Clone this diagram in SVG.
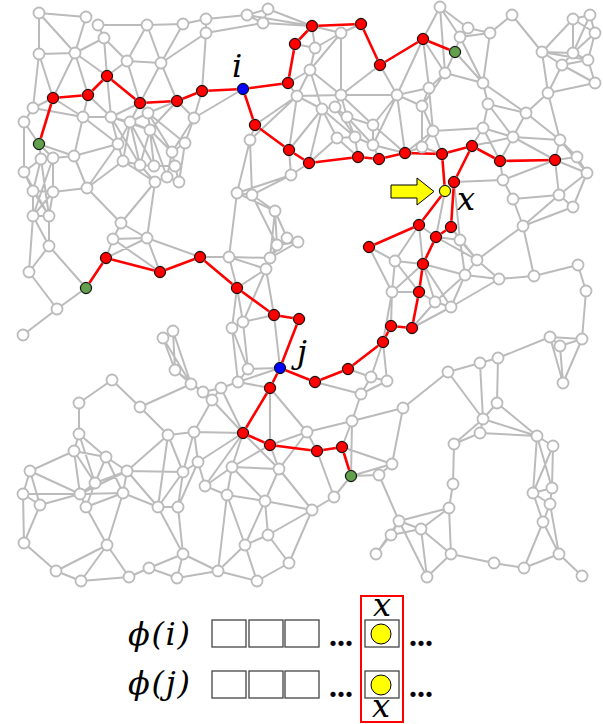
<svg xmlns="http://www.w3.org/2000/svg" width="603" height="724" viewBox="0 0 603 724">
<style>
.e{fill:none;stroke:#bbb;stroke-width:2;stroke-linecap:round}
.re{fill:none;stroke:#f00;stroke-width:2.6;stroke-linecap:round;stroke-linejoin:round}
.gn circle,circle.h{fill:#fff;stroke:#bbb;stroke-width:1.8}
circle.r{fill:#f00;stroke:#000;stroke-width:1}
circle.g{fill:#62a04e;stroke:#000;stroke-width:1}
circle.b{fill:#00f;stroke:#000;stroke-width:1}
circle.y{fill:#ff0;stroke:#000;stroke-width:1}
.m{font-family:"DejaVu Serif","Liberation Serif",serif;font-style:italic;fill:#000}
.dots{font-family:"Liberation Serif",serif;font-weight:bold;font-size:32px;fill:#000}
.box{fill:#fff;stroke:#444;stroke-width:1.3}
</style>
<g id="connectors">
<path class="e" d="M39 13L86 17M39 13L39 54M39 13L75 53M86 17L75 53M98 25L147 25M147 25L183 24M183 24L206 19M98 25L104 38M104 38L75 53M104 38L127 61M104 38L107 76M147 25L127 61M147 25L161 63M183 24L161 63M127 61L161 63M161 63L206 33M161 63L177 101M127 61L107 76M75 53L39 54M75 53L53 98M75 53L88 95M75 53L107 76M39 54L53 98M39 54L33 108M127 61L140 103M161 63L140 103M177 101L194 118M53 98L33 108M53 98L83 117M88 95L83 117M88 95L111 117M107 76L111 117M140 103L111 117M140 103L130 122M140 103L148 113M177 101L148 113M177 101L150 130M33 108L24 122M24 122L39 144M33 108L83 117M83 117L111 117M111 117L130 122M130 122L148 113M148 113L150 130M83 117L74 156M83 117L118 144M111 117L118 144M130 122L118 144M39 144L41 159M39 144L53 158M39 144L74 156M74 156L118 144M74 156L87 188M74 156L53 158M118 144L123 161M118 144L87 188M130 122L123 161M130 122L140 165M130 122L154 166M150 130L140 165M150 130L154 166M150 130L172 152M150 130L167 177M148 113L172 152M194 118L185 143M194 118L172 152M185 143L172 152M185 143L179 182M172 152L167 177M172 152L175 166M123 161L140 165M140 165L154 166M154 166L175 166M123 161L155 182M140 165L155 182M155 182L167 177M167 177L179 182M175 166L179 182M123 161L87 188M87 188L53 192M87 188L121 223M155 182L147 238M155 182L121 223M24 122L24 172M41 159L24 172M41 159L33 191M53 158L53 192M24 172L33 191M33 191L53 192M41 159L53 158M33 191L33 216M53 192L49 216M33 191L49 216M53 192L33 216M33 216L49 216M24 172L49 216M41 159L49 216M53 158L33 216M194 118L202 91M194 118L243 89M148 113L185 143M111 117L150 130M148 113L154 166M111 117L140 165M130 122L150 130"/>
<path class="e" d="M33 216L29 272M49 216L49 246M33 216L49 246M49 246L29 272M49 246L86 288M29 272L57 309M86 288L57 309M57 309L23 335M121 223L113 239M121 223L147 238M113 239L147 238M113 239L106 258M147 238L160 272M147 238L200 257M113 239L160 272M147 238L106 258"/>
<path class="e" d="M206 19L247 15M206 19L206 33M206 33L263 23M247 15L268 9M247 15L263 23M263 23L268 9M268 9L312 26M263 23L312 26M247 15L312 26M206 33L202 91M341 33L312 26M341 33L361 24M341 33L315 48M341 33L310 70M315 48L295 44M315 48L310 70M315 48L312 26M310 70L288 83M310 70L297 96M310 70L341 95M310 70L322 109M288 83L297 96M297 96L250 140M297 96L255 125M297 96L341 95M297 96L322 109M297 96L289 150M341 95L397 95M380 65L341 95M341 95L335 107M341 95L347 117M341 95L373 125M380 65L397 95M397 95L373 125M397 95L373 145M397 95L405 153M423 39L397 95M397 95L429 88M397 95L422 106M322 109L335 107M322 109L337 138M322 109L309 163M322 109L289 150M335 107L347 117M347 117L355 137M347 117L373 125M347 117L373 145M355 137L337 138M355 137L373 145M355 137L358 157M337 138L309 163M337 138L358 157M373 125L373 145M373 145L379 159M373 145L405 153M373 125L405 153M250 140L255 125M250 140L237 193M250 140L252 195M289 150L291 175M309 163L291 175M291 175L252 195M291 175L237 193M237 193L252 195M341 33L341 95M335 107L355 137M322 109L355 137"/>
<path class="e" d="M440 7L423 39M440 7L468 28M440 7L460 37M440 7L445 73M423 39L445 73M423 39L429 88M455 52L460 37M455 52L445 73M455 52L483 83M468 28L460 37M468 28L490 33M460 37L490 33M490 33L512 15M490 33L483 83M460 37L483 83M512 15L542 52M542 52L573 53M542 52L562 65M542 52L573 19M542 52L548 93M542 52L588 60M573 19L590 15M573 19L573 53M590 15L595 33M573 19L595 33M595 33L573 53M573 53L588 60M588 60L562 65M562 65L595 83M573 53L562 65M588 60L595 83M590 15L573 53M595 33L588 60M548 93L562 65M548 93L595 83M548 93L526 113M548 93L560 140M445 73L429 88M445 73L483 83M429 88L422 106M483 83L488 104M483 83L526 113M488 104L526 113M488 104L483 128M488 104L513 137M526 113L513 137M526 113L560 140M422 106L433 131M422 106L422 147M433 131L422 147M433 131L483 128M433 131L442 154M433 131L405 153M483 128L513 137M483 128L472 146M483 128L500 161M513 137L500 161M513 137L560 140M513 137L472 146M513 137L555 160M560 140L555 160M560 140L577 157M560 140L587 173M422 147L405 153M422 147L442 154M555 160L577 157M555 160L559 195M555 160L587 173M577 157L587 173M587 173L559 195M587 173L573 207M500 161L503 180M503 180L513 199M503 180L454 182M503 180L555 160M513 199L559 195M513 199L523 226M445 73L422 106M429 88L433 131"/>
<path class="e" d="M559 195L523 226M573 207L523 226M559 195L573 207M523 226L534 276M523 226L477 260M534 276L499 279M534 276L578 265M578 265L586 291M586 291L582 339M582 339L550 337M582 339L560 346M582 339L563 383M550 337L560 346M550 337L563 383M560 346L563 383M550 337L498 358M498 358L480 363M480 363L448 372M480 363L483 419M498 358L497 403M448 372L403 408M448 372L483 419M499 279L477 260M499 279L465 275M499 279L451 307M477 260L460 240M477 260L465 275M477 260L436 237M477 260L451 227M460 240L451 227M460 240L465 275M460 240L436 237M465 275L423 264M465 275L451 307M465 275L435 302M419 225L423 264M419 225L436 237M419 225L395 261M423 264L451 307M423 264L435 302M423 264L395 261M423 264L392 292M419 292L435 302M419 292L392 292M435 302L451 307M435 302L412 328M451 307L412 328M445 191L436 237M454 182L460 240"/>
<path class="e" d="M237 193L275 211M252 195L275 211M275 211L277 245M275 211L287 238M252 195L277 245M275 211L270 258M277 245L287 238M287 238L298 242M277 245L298 242M277 245L270 258M287 238L270 258M270 258L266 269M298 242L270 258M229 257L270 258M229 257L266 269M200 257L229 257M229 257L237 288M237 193L229 257M266 269L237 288M266 269L274 315M266 269L243 322M237 288L243 322M237 288L232 328M274 315L243 322M274 315L280 368M243 322L232 328M243 322L248 369M232 328L238 382M232 328L248 369M248 369L280 368M248 369L238 382M238 382L221 388M238 382L280 368M238 382L270 388M348 369L371 377M383 342L371 377M383 342L387 381M371 377L387 381M315 382L361 394M371 377L361 394M369 247L395 261M395 261L392 292M392 292L391 326M392 292L383 342M369 247L392 292M395 261L419 292M361 394L387 381"/>
<path class="e" d="M163 338L173 331M163 338L175 370M173 331L175 370M163 338L191 384M173 331L191 384M175 370L191 384M191 384L203 392M175 370L203 392M112 380L79 403M112 380L140 407M140 407L191 384M203 392L212 400M221 388L203 392"/>
<path class="e" d="M79 403L79 434M140 407L168 435M79 434L74 451M79 434L106 457M79 434L95 483M74 451L106 457M74 451L30 471M74 451L80 494M74 451L95 483M106 457L127 471M106 457L95 483M106 457L123 493M127 471L168 435M127 471L183 472M127 471L95 483M127 471L123 493M127 471L80 494M127 471L158 507M30 471L23 494M30 471L40 505M30 471L80 494M23 494L80 494M23 494L24 543M23 494L40 505M40 505L80 494M40 505L24 543M80 494L86 507M80 494L95 483M80 494L123 493M86 507L123 493M86 507L107 545M86 507L95 483M123 493L107 545M123 493L158 507M168 435L194 432M168 435L183 472M168 435L158 507M194 432L183 472M194 432L198 462M194 432L212 400M183 472L198 462M183 472L158 507M183 472L178 507M198 462L178 507M158 507L178 507M158 507L183 554M178 507L183 554M24 543L56 571M107 545L56 571M107 545L81 581M107 545L129 577M56 571L81 581M81 581L129 577M129 577L149 568M149 568L183 554M149 568L177 578M183 554L177 578M177 578L218 571M183 554L218 571M194 432L243 433M198 462L243 433M198 462L205 486"/>
<path class="e" d="M212 400L221 388M212 400L243 433M221 388L243 433M270 388L270 445M243 433L232 467M243 433L279 469M243 433L205 486M270 445L279 469M270 445L232 467M307 432L317 451M307 432L352 421M307 432L279 469M307 432L270 388M352 421L342 447M352 421L361 394M352 421L403 408M352 421L351 476M342 447L392 464M351 476L379 475M351 476L392 464M351 476L334 497M379 475L392 464M379 475L399 521M232 467L279 469M232 467L205 486M232 467L227 495M232 467L265 501M279 469L265 501M279 469L312 510M317 451L334 497M205 486L227 495M227 495L265 501M227 495L245 545M227 495L218 571M265 501L312 510M265 501L268 535M265 501L245 545M312 510L334 497M312 510L268 535M312 510L289 563M268 535L245 545M268 535L289 563M245 545L218 571M245 545L257 581M289 563L257 581M218 571L257 581M399 521L391 535M391 535L376 554M399 521L376 554M403 408L392 464M391 535L421 529M270 445L307 432"/>
<path class="e" d="M497 403L483 419M497 403L537 436M483 419L480 433M483 419L537 436M480 433L537 436M480 433L454 444M483 419L454 444M454 444L453 484M453 484L449 508M537 436L553 446M537 436L533 493M537 436L552 488M553 446L552 488M553 446L533 493M533 493L543 522M552 488L550 504M533 493L550 504M550 504L543 522M550 504L559 554M543 522L524 568M559 554L582 576M543 522L559 554M449 508L421 529M449 508L399 521M449 508L451 554M421 529L399 521M421 529L451 554M421 529L427 577M399 521L427 577M451 554L494 563M494 563L524 568M524 568L559 554M451 554L427 577M533 493L552 488"/>
<path class="re" d="M39 144L53 98L88 95L107 76L140 103L177 101L202 91L243 89L288 83L295 44L312 26L361 24L380 65L423 39L455 52M243 89L255 125L289 150L309 163L358 157L379 159L405 153L442 154L445 191M442 154L472 146L500 161L555 160M472 146L454 182L451 227L436 237L423 264L419 292L412 328L391 326L383 342L348 369L315 382L280 368M445 191L419 225L369 247M86 288L106 258L160 272L200 257L237 288L274 315L299 319L280 368L270 388L243 433L270 445L317 451L342 447L351 476"/>
</g>
<g class="gn">
<g id="n1"><circle cx="39" cy="13" r="5.5"/></g>
<g id="n2"><circle cx="86" cy="17" r="5.5"/></g>
<g id="n3"><circle cx="98" cy="25" r="5.5"/></g>
<g id="n4"><circle cx="147" cy="25" r="5.5"/></g>
<g id="n5"><circle cx="183" cy="24" r="5.5"/></g>
<g id="n6"><circle cx="104" cy="38" r="5.5"/></g>
<g id="n7"><circle cx="39" cy="54" r="5.5"/></g>
<g id="n8"><circle cx="75" cy="53" r="5.5"/></g>
<g id="n9"><circle cx="127" cy="61" r="5.5"/></g>
<g id="n10"><circle cx="161" cy="63" r="5.5"/></g>
<g id="n11"><circle cx="33" cy="108" r="5.5"/></g>
<g id="n12"><circle cx="24" cy="122" r="5.5"/></g>
<g id="n13"><circle cx="83" cy="117" r="5.5"/></g>
<g id="n14"><circle cx="111" cy="117" r="5.5"/></g>
<g id="n15"><circle cx="130" cy="122" r="5.5"/></g>
<g id="n16"><circle cx="148" cy="113" r="5.5"/></g>
<g id="n17"><circle cx="150" cy="130" r="5.5"/></g>
<g id="n18"><circle cx="194" cy="118" r="5.5"/></g>
<g id="n19"><circle cx="118" cy="144" r="5.5"/></g>
<g id="n20"><circle cx="172" cy="152" r="5.5"/></g>
<g id="n21"><circle cx="185" cy="143" r="5.5"/></g>
<g id="n22"><circle cx="74" cy="156" r="5.5"/></g>
<g id="n23"><circle cx="41" cy="159" r="5.5"/></g>
<g id="n24"><circle cx="53" cy="158" r="5.5"/></g>
<g id="n25"><circle cx="123" cy="161" r="5.5"/></g>
<g id="n26"><circle cx="140" cy="165" r="5.5"/></g>
<g id="n27"><circle cx="154" cy="166" r="5.5"/></g>
<g id="n28"><circle cx="175" cy="166" r="5.5"/></g>
<g id="n29"><circle cx="167" cy="177" r="5.5"/></g>
<g id="n30"><circle cx="179" cy="182" r="5.5"/></g>
<g id="n31"><circle cx="155" cy="182" r="5.5"/></g>
<g id="n32"><circle cx="24" cy="172" r="5.5"/></g>
<g id="n33"><circle cx="87" cy="188" r="5.5"/></g>
<g id="n34"><circle cx="33" cy="191" r="5.5"/></g>
<g id="n35"><circle cx="53" cy="192" r="5.5"/></g>
<g id="n36"><circle cx="33" cy="216" r="5.5"/></g>
<g id="n37"><circle cx="49" cy="216" r="5.5"/></g>
<g id="n38"><circle cx="121" cy="223" r="5.5"/></g>
<g id="n39"><circle cx="113" cy="239" r="5.5"/></g>
<g id="n40"><circle cx="147" cy="238" r="5.5"/></g>
<g id="n41"><circle cx="49" cy="246" r="5.5"/></g>
<g id="n42"><circle cx="29" cy="272" r="5.5"/></g>
<g id="n43"><circle cx="57" cy="309" r="5.5"/></g>
<g id="n44"><circle cx="23" cy="335" r="5.5"/></g>
<g id="n45"><circle cx="206" cy="19" r="5.5"/></g>
<g id="n46"><circle cx="206" cy="33" r="5.5"/></g>
<g id="n47"><circle cx="247" cy="15" r="5.5"/></g>
<g id="n48"><circle cx="263" cy="23" r="5.5"/></g>
<g id="n49"><circle cx="268" cy="9" r="5.5"/></g>
<g id="n50"><circle cx="341" cy="33" r="5.5"/></g>
<g id="n51"><circle cx="315" cy="48" r="5.5"/></g>
<g id="n52"><circle cx="310" cy="70" r="5.5"/></g>
<g id="n53"><circle cx="297" cy="96" r="5.5"/></g>
<g id="n54"><circle cx="341" cy="95" r="5.5"/></g>
<g id="n55"><circle cx="397" cy="95" r="5.5"/></g>
<g id="n56"><circle cx="322" cy="109" r="5.5"/></g>
<g id="n57"><circle cx="335" cy="107" r="5.5"/></g>
<g id="n58"><circle cx="347" cy="117" r="5.5"/></g>
<g id="n59"><circle cx="373" cy="125" r="5.5"/></g>
<g id="n60"><circle cx="355" cy="137" r="5.5"/></g>
<g id="n61"><circle cx="337" cy="138" r="5.5"/></g>
<g id="n62"><circle cx="373" cy="145" r="5.5"/></g>
<g id="n63"><circle cx="250" cy="140" r="5.5"/></g>
<g id="n64"><circle cx="291" cy="175" r="5.5"/></g>
<g id="n65"><circle cx="237" cy="193" r="5.5"/></g>
<g id="n66"><circle cx="252" cy="195" r="5.5"/></g>
<g id="n67"><circle cx="440" cy="7" r="5.5"/></g>
<g id="n68"><circle cx="512" cy="15" r="5.5"/></g>
<g id="n69"><circle cx="573" cy="19" r="5.5"/></g>
<g id="n70"><circle cx="590" cy="15" r="5.5"/></g>
<g id="n71"><circle cx="468" cy="28" r="5.5"/></g>
<g id="n72"><circle cx="460" cy="37" r="5.5"/></g>
<g id="n73"><circle cx="490" cy="33" r="5.5"/></g>
<g id="n74"><circle cx="542" cy="52" r="5.5"/></g>
<g id="n75"><circle cx="573" cy="53" r="5.5"/></g>
<g id="n76"><circle cx="595" cy="33" r="5.5"/></g>
<g id="n77"><circle cx="588" cy="60" r="5.5"/></g>
<g id="n78"><circle cx="562" cy="65" r="5.5"/></g>
<g id="n79"><circle cx="595" cy="83" r="5.5"/></g>
<g id="n80"><circle cx="445" cy="73" r="5.5"/></g>
<g id="n81"><circle cx="429" cy="88" r="5.5"/></g>
<g id="n82"><circle cx="483" cy="83" r="5.5"/></g>
<g id="n83"><circle cx="548" cy="93" r="5.5"/></g>
<g id="n84"><circle cx="422" cy="106" r="5.5"/></g>
<g id="n85"><circle cx="488" cy="104" r="5.5"/></g>
<g id="n86"><circle cx="526" cy="113" r="5.5"/></g>
<g id="n87"><circle cx="433" cy="131" r="5.5"/></g>
<g id="n88"><circle cx="483" cy="128" r="5.5"/></g>
<g id="n89"><circle cx="513" cy="137" r="5.5"/></g>
<g id="n90"><circle cx="560" cy="140" r="5.5"/></g>
<g id="n91"><circle cx="422" cy="147" r="5.5"/></g>
<g id="n92"><circle cx="577" cy="157" r="5.5"/></g>
<g id="n93"><circle cx="587" cy="173" r="5.5"/></g>
<g id="n94"><circle cx="503" cy="180" r="5.5"/></g>
<g id="n95"><circle cx="513" cy="199" r="5.5"/></g>
<g id="n96"><circle cx="559" cy="195" r="5.5"/></g>
<g id="n97"><circle cx="573" cy="207" r="5.5"/></g>
<g id="n98"><circle cx="275" cy="211" r="5.5"/></g>
<g id="n99"><circle cx="277" cy="245" r="5.5"/></g>
<g id="n100"><circle cx="287" cy="238" r="5.5"/></g>
<g id="n101"><circle cx="298" cy="242" r="5.5"/></g>
<g id="n102"><circle cx="270" cy="258" r="5.5"/></g>
<g id="n103"><circle cx="266" cy="269" r="5.5"/></g>
<g id="n104"><circle cx="229" cy="257" r="5.5"/></g>
<g id="n105"><circle cx="243" cy="322" r="5.5"/></g>
<g id="n106"><circle cx="232" cy="328" r="5.5"/></g>
<g id="n107"><circle cx="248" cy="369" r="5.5"/></g>
<g id="n108"><circle cx="238" cy="382" r="5.5"/></g>
<g id="n109"><circle cx="221" cy="388" r="5.5"/></g>
<g id="n110"><circle cx="371" cy="377" r="5.5"/></g>
<g id="n111"><circle cx="387" cy="381" r="5.5"/></g>
<g id="n112"><circle cx="395" cy="261" r="5.5"/></g>
<g id="n113"><circle cx="392" cy="292" r="5.5"/></g>
<g id="n114"><circle cx="361" cy="394" r="5.5"/></g>
<g id="n115"><circle cx="460" cy="240" r="5.5"/></g>
<g id="n116"><circle cx="477" cy="260" r="5.5"/></g>
<g id="n117"><circle cx="465" cy="275" r="5.5"/></g>
<g id="n118"><circle cx="523" cy="226" r="5.5"/></g>
<g id="n119"><circle cx="499" cy="279" r="5.5"/></g>
<g id="n120"><circle cx="534" cy="276" r="5.5"/></g>
<g id="n121"><circle cx="578" cy="265" r="5.5"/></g>
<g id="n122"><circle cx="586" cy="291" r="5.5"/></g>
<g id="n123"><circle cx="435" cy="302" r="5.5"/></g>
<g id="n124"><circle cx="451" cy="307" r="5.5"/></g>
<g id="n125"><circle cx="550" cy="337" r="5.5"/></g>
<g id="n126"><circle cx="560" cy="346" r="5.5"/></g>
<g id="n127"><circle cx="582" cy="339" r="5.5"/></g>
<g id="n128"><circle cx="563" cy="383" r="5.5"/></g>
<g id="n129"><circle cx="498" cy="358" r="5.5"/></g>
<g id="n130"><circle cx="480" cy="363" r="5.5"/></g>
<g id="n131"><circle cx="448" cy="372" r="5.5"/></g>
<g id="n132"><circle cx="163" cy="338" r="5.5"/></g>
<g id="n133"><circle cx="173" cy="331" r="5.5"/></g>
<g id="n134"><circle cx="175" cy="370" r="5.5"/></g>
<g id="n135"><circle cx="191" cy="384" r="5.5"/></g>
<g id="n136"><circle cx="112" cy="380" r="5.5"/></g>
<g id="n137"><circle cx="203" cy="392" r="5.5"/></g>
<g id="n138"><circle cx="79" cy="403" r="5.5"/></g>
<g id="n139"><circle cx="140" cy="407" r="5.5"/></g>
<g id="n140"><circle cx="79" cy="434" r="5.5"/></g>
<g id="n141"><circle cx="74" cy="451" r="5.5"/></g>
<g id="n142"><circle cx="106" cy="457" r="5.5"/></g>
<g id="n143"><circle cx="30" cy="471" r="5.5"/></g>
<g id="n144"><circle cx="127" cy="471" r="5.5"/></g>
<g id="n145"><circle cx="95" cy="483" r="5.5"/></g>
<g id="n146"><circle cx="23" cy="494" r="5.5"/></g>
<g id="n147"><circle cx="80" cy="494" r="5.5"/></g>
<g id="n148"><circle cx="123" cy="493" r="5.5"/></g>
<g id="n149"><circle cx="40" cy="505" r="5.5"/></g>
<g id="n150"><circle cx="86" cy="507" r="5.5"/></g>
<g id="n151"><circle cx="168" cy="435" r="5.5"/></g>
<g id="n152"><circle cx="194" cy="432" r="5.5"/></g>
<g id="n153"><circle cx="183" cy="472" r="5.5"/></g>
<g id="n154"><circle cx="198" cy="462" r="5.5"/></g>
<g id="n155"><circle cx="158" cy="507" r="5.5"/></g>
<g id="n156"><circle cx="178" cy="507" r="5.5"/></g>
<g id="n157"><circle cx="24" cy="543" r="5.5"/></g>
<g id="n158"><circle cx="107" cy="545" r="5.5"/></g>
<g id="n159"><circle cx="183" cy="554" r="5.5"/></g>
<g id="n160"><circle cx="56" cy="571" r="5.5"/></g>
<g id="n161"><circle cx="81" cy="581" r="5.5"/></g>
<g id="n162"><circle cx="129" cy="577" r="5.5"/></g>
<g id="n163"><circle cx="149" cy="568" r="5.5"/></g>
<g id="n164"><circle cx="177" cy="578" r="5.5"/></g>
<g id="n165"><circle cx="212" cy="400" r="5.5"/></g>
<g id="n166"><circle cx="307" cy="432" r="5.5"/></g>
<g id="n167"><circle cx="352" cy="421" r="5.5"/></g>
<g id="n168"><circle cx="403" cy="408" r="5.5"/></g>
<g id="n169"><circle cx="392" cy="464" r="5.5"/></g>
<g id="n170"><circle cx="379" cy="475" r="5.5"/></g>
<g id="n171"><circle cx="232" cy="467" r="5.5"/></g>
<g id="n172"><circle cx="279" cy="469" r="5.5"/></g>
<g id="n173"><circle cx="205" cy="486" r="5.5"/></g>
<g id="n174"><circle cx="227" cy="495" r="5.5"/></g>
<g id="n175"><circle cx="265" cy="501" r="5.5"/></g>
<g id="n176"><circle cx="312" cy="510" r="5.5"/></g>
<g id="n177"><circle cx="334" cy="497" r="5.5"/></g>
<g id="n178"><circle cx="268" cy="535" r="5.5"/></g>
<g id="n179"><circle cx="245" cy="545" r="5.5"/></g>
<g id="n180"><circle cx="289" cy="563" r="5.5"/></g>
<g id="n181"><circle cx="218" cy="571" r="5.5"/></g>
<g id="n182"><circle cx="257" cy="581" r="5.5"/></g>
<g id="n183"><circle cx="399" cy="521" r="5.5"/></g>
<g id="n184"><circle cx="391" cy="535" r="5.5"/></g>
<g id="n185"><circle cx="376" cy="554" r="5.5"/></g>
<g id="n186"><circle cx="497" cy="403" r="5.5"/></g>
<g id="n187"><circle cx="483" cy="419" r="5.5"/></g>
<g id="n188"><circle cx="480" cy="433" r="5.5"/></g>
<g id="n189"><circle cx="454" cy="444" r="5.5"/></g>
<g id="n190"><circle cx="537" cy="436" r="5.5"/></g>
<g id="n191"><circle cx="553" cy="446" r="5.5"/></g>
<g id="n192"><circle cx="453" cy="484" r="5.5"/></g>
<g id="n193"><circle cx="449" cy="508" r="5.5"/></g>
<g id="n194"><circle cx="533" cy="493" r="5.5"/></g>
<g id="n195"><circle cx="552" cy="488" r="5.5"/></g>
<g id="n196"><circle cx="550" cy="504" r="5.5"/></g>
<g id="n197"><circle cx="543" cy="522" r="5.5"/></g>
<g id="n198"><circle cx="421" cy="529" r="5.5"/></g>
<g id="n199"><circle cx="451" cy="554" r="5.5"/></g>
<g id="n200"><circle cx="494" cy="563" r="5.5"/></g>
<g id="n201"><circle cx="524" cy="568" r="5.5"/></g>
<g id="n202"><circle cx="559" cy="554" r="5.5"/></g>
<g id="n203"><circle cx="582" cy="576" r="5.5"/></g>
<g id="n204"><circle cx="427" cy="577" r="5.5"/></g>
</g>
<g id="path-nodes">
<g id="r1"><circle class="h" cx="53" cy="98" r="5.5"/><circle class="r" cx="53" cy="98" r="5.5"/></g>
<g id="r2"><circle class="h" cx="88" cy="95" r="5.5"/><circle class="r" cx="88" cy="95" r="5.5"/></g>
<g id="r3"><circle class="h" cx="107" cy="76" r="5.5"/><circle class="r" cx="107" cy="76" r="5.5"/></g>
<g id="r4"><circle class="h" cx="140" cy="103" r="5.5"/><circle class="r" cx="140" cy="103" r="5.5"/></g>
<g id="r5"><circle class="h" cx="177" cy="101" r="5.5"/><circle class="r" cx="177" cy="101" r="5.5"/></g>
<g id="r6"><circle class="h" cx="202" cy="91" r="5.5"/><circle class="r" cx="202" cy="91" r="5.5"/></g>
<g id="r7"><circle class="h" cx="288" cy="83" r="5.5"/><circle class="r" cx="288" cy="83" r="5.5"/></g>
<g id="r8"><circle class="h" cx="295" cy="44" r="5.5"/><circle class="r" cx="295" cy="44" r="5.5"/></g>
<g id="r9"><circle class="h" cx="312" cy="26" r="5.5"/><circle class="r" cx="312" cy="26" r="5.5"/></g>
<g id="r10"><circle class="h" cx="361" cy="24" r="5.5"/><circle class="r" cx="361" cy="24" r="5.5"/></g>
<g id="r11"><circle class="h" cx="380" cy="65" r="5.5"/><circle class="r" cx="380" cy="65" r="5.5"/></g>
<g id="r12"><circle class="h" cx="423" cy="39" r="5.5"/><circle class="r" cx="423" cy="39" r="5.5"/></g>
<g id="r13"><circle class="h" cx="255" cy="125" r="5.5"/><circle class="r" cx="255" cy="125" r="5.5"/></g>
<g id="r14"><circle class="h" cx="289" cy="150" r="5.5"/><circle class="r" cx="289" cy="150" r="5.5"/></g>
<g id="r15"><circle class="h" cx="309" cy="163" r="5.5"/><circle class="r" cx="309" cy="163" r="5.5"/></g>
<g id="r16"><circle class="h" cx="358" cy="157" r="5.5"/><circle class="r" cx="358" cy="157" r="5.5"/></g>
<g id="r17"><circle class="h" cx="379" cy="159" r="5.5"/><circle class="r" cx="379" cy="159" r="5.5"/></g>
<g id="r18"><circle class="h" cx="405" cy="153" r="5.5"/><circle class="r" cx="405" cy="153" r="5.5"/></g>
<g id="r19"><circle class="h" cx="442" cy="154" r="5.5"/><circle class="r" cx="442" cy="154" r="5.5"/></g>
<g id="r20"><circle class="h" cx="472" cy="146" r="5.5"/><circle class="r" cx="472" cy="146" r="5.5"/></g>
<g id="r21"><circle class="h" cx="500" cy="161" r="5.5"/><circle class="r" cx="500" cy="161" r="5.5"/></g>
<g id="r22"><circle class="h" cx="555" cy="160" r="5.5"/><circle class="r" cx="555" cy="160" r="5.5"/></g>
<g id="r23"><circle class="h" cx="454" cy="182" r="5.5"/><circle class="r" cx="454" cy="182" r="5.5"/></g>
<g id="r24"><circle class="h" cx="419" cy="225" r="5.5"/><circle class="r" cx="419" cy="225" r="5.5"/></g>
<g id="r25"><circle class="h" cx="369" cy="247" r="5.5"/><circle class="r" cx="369" cy="247" r="5.5"/></g>
<g id="r26"><circle class="h" cx="451" cy="227" r="5.5"/><circle class="r" cx="451" cy="227" r="5.5"/></g>
<g id="r27"><circle class="h" cx="436" cy="237" r="5.5"/><circle class="r" cx="436" cy="237" r="5.5"/></g>
<g id="r28"><circle class="h" cx="423" cy="264" r="5.5"/><circle class="r" cx="423" cy="264" r="5.5"/></g>
<g id="r29"><circle class="h" cx="419" cy="292" r="5.5"/><circle class="r" cx="419" cy="292" r="5.5"/></g>
<g id="r30"><circle class="h" cx="412" cy="328" r="5.5"/><circle class="r" cx="412" cy="328" r="5.5"/></g>
<g id="r31"><circle class="h" cx="391" cy="326" r="5.5"/><circle class="r" cx="391" cy="326" r="5.5"/></g>
<g id="r32"><circle class="h" cx="383" cy="342" r="5.5"/><circle class="r" cx="383" cy="342" r="5.5"/></g>
<g id="r33"><circle class="h" cx="348" cy="369" r="5.5"/><circle class="r" cx="348" cy="369" r="5.5"/></g>
<g id="r34"><circle class="h" cx="315" cy="382" r="5.5"/><circle class="r" cx="315" cy="382" r="5.5"/></g>
<g id="r35"><circle class="h" cx="106" cy="258" r="5.5"/><circle class="r" cx="106" cy="258" r="5.5"/></g>
<g id="r36"><circle class="h" cx="160" cy="272" r="5.5"/><circle class="r" cx="160" cy="272" r="5.5"/></g>
<g id="r37"><circle class="h" cx="200" cy="257" r="5.5"/><circle class="r" cx="200" cy="257" r="5.5"/></g>
<g id="r38"><circle class="h" cx="237" cy="288" r="5.5"/><circle class="r" cx="237" cy="288" r="5.5"/></g>
<g id="r39"><circle class="h" cx="274" cy="315" r="5.5"/><circle class="r" cx="274" cy="315" r="5.5"/></g>
<g id="r40"><circle class="h" cx="299" cy="319" r="5.5"/><circle class="r" cx="299" cy="319" r="5.5"/></g>
<g id="r41"><circle class="h" cx="270" cy="388" r="5.5"/><circle class="r" cx="270" cy="388" r="5.5"/></g>
<g id="r42"><circle class="h" cx="243" cy="433" r="5.5"/><circle class="r" cx="243" cy="433" r="5.5"/></g>
<g id="r43"><circle class="h" cx="270" cy="445" r="5.5"/><circle class="r" cx="270" cy="445" r="5.5"/></g>
<g id="r44"><circle class="h" cx="317" cy="451" r="5.5"/><circle class="r" cx="317" cy="451" r="5.5"/></g>
<g id="r45"><circle class="h" cx="342" cy="447" r="5.5"/><circle class="r" cx="342" cy="447" r="5.5"/></g>
<g id="g1"><circle class="h" cx="39" cy="144" r="5.5"/><circle class="g" cx="39" cy="144" r="5.5"/></g>
<g id="g2"><circle class="h" cx="455" cy="52" r="5.5"/><circle class="g" cx="455" cy="52" r="5.5"/></g>
<g id="g3"><circle class="h" cx="86" cy="288" r="5.5"/><circle class="g" cx="86" cy="288" r="5.5"/></g>
<g id="g4"><circle class="h" cx="351" cy="476" r="5.5"/><circle class="g" cx="351" cy="476" r="5.5"/></g>
<g id="node-i"><circle class="h" cx="243" cy="89" r="5.5"/><circle class="b" cx="243" cy="89" r="5.5"/><text class="m" x="232" y="77" font-size="32">i</text></g>
<g id="node-j"><circle class="h" cx="280" cy="368" r="5.5"/><circle class="b" cx="280" cy="368" r="5.5"/><text class="m" x="297" y="363" font-size="32">j</text></g>
<g id="node-x"><circle class="h" cx="445" cy="191" r="5.5"/><circle class="y" cx="445" cy="191" r="5.5"/><text class="m" x="457" y="210" font-size="32">x</text></g>
</g>
<g id="arrow"><polygon points="391,185 417,185 417,178 434,191.5 417,205 417,198 391,198" fill="#ff0" stroke="#000" stroke-width="1"/></g>
<g id="legend">
<text class="m" x="128" y="645" font-size="32" textLength="62" lengthAdjust="spacing">ϕ(i)</text>
<text class="m" x="128" y="694" font-size="32" textLength="62" lengthAdjust="spacing">ϕ(j)</text>
<rect class="box" x="212" y="620" width="34" height="27"/>
<rect class="box" x="249" y="620" width="34" height="27"/>
<rect class="box" x="285" y="620" width="34" height="27"/>
<rect class="box" x="365" y="620" width="34" height="27"/>
<rect class="box" x="212" y="671" width="34" height="27"/>
<rect class="box" x="249" y="671" width="34" height="27"/>
<rect class="box" x="285" y="671" width="34" height="27"/>
<rect class="box" x="365" y="671" width="34" height="27"/>
<circle class="y" cx="381" cy="634" r="10"/>
<circle class="y" cx="381" cy="685" r="10"/>
<text class="dots" x="329" y="646">...</text>
<text class="dots" x="409" y="646">...</text>
<text class="dots" x="329" y="697">...</text>
<text class="dots" x="409" y="697">...</text>
<text class="m" x="382" y="616" font-size="32" text-anchor="middle">x</text>
<text class="m" x="381" y="717" font-size="32" text-anchor="middle">x</text>
<rect x="361" y="596" width="42" height="126" fill="none" stroke="#f00" stroke-width="2"/>
</g>
</svg>
